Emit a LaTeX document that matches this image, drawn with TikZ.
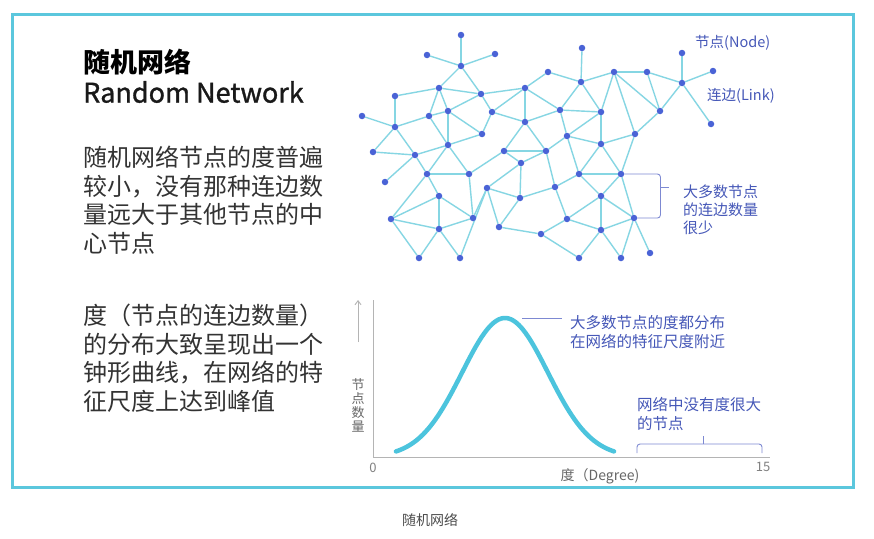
\documentclass[tikz,border=0pt]{standalone}
\usepackage{fontspec}
\setmainfont{Noto Sans CJK SC}
\newfontfamily\medfont[FakeBold=1.2]{Noto Sans CJK SC}
\usetikzlibrary{arrows.meta}
\pgfdeclarelayer{bg}
\pgfsetlayers{bg,main}
\definecolor{framecyan}{HTML}{5BC7DD}
\definecolor{nodeblue}{HTML}{4A63D6}
\definecolor{linkcyan}{HTML}{86D6E3}
\definecolor{lblblue}{HTML}{4658B8}
\definecolor{brkblue}{HTML}{7D89D2}
\definecolor{curvecyan}{HTML}{4CC4DD}
\definecolor{axisgray}{HTML}{B4B4B4}
\definecolor{txtgray}{HTML}{333333}
\begin{document}
\begin{tikzpicture}[x=1pt,y=-1pt,
  dot/.style={circle,fill=nodeblue,inner sep=0pt,minimum size=6.5pt},
  link/.style={draw=linkcyan,line width=1.4pt},
  lbl/.style={text=lblblue,inner sep=0pt,align=left},
  brk/.style={draw=brkblue,line width=0.9pt,rounded corners=3pt},
  axisline/.style={draw=axisgray,line width=1pt},
  gtxt/.style={text=gray!80!black,inner sep=0pt}]
\begin{pgfonlayer}{bg}
\fill[white] (0,0) rectangle (874,538);
\end{pgfonlayer}
\useasboundingbox (0,0) rectangle (874,538);
\draw[framecyan,line width=3pt] (12,14) rectangle (853,487);

% left texts
\node[anchor=west,inner sep=0pt,text=black,font={\fontsize{27}{32}\selectfont\bfseries}] (h1) at (83,62) {随机网络};
\node[anchor=west,inner sep=0pt,text=black!90,font={\fontsize{27}{32}\selectfont\medfont}] (h2) at (83,92) {Random Network};
\node[anchor=west,inner sep=0pt,text=txtgray,align=left,font={\fontsize{24}{28.5}\selectfont}] (p1) at (83,200) {随机网络节点的度普遍\\较小，没有那种连边数\\量远大于其他节点的中\\心节点};
\node[anchor=west,inner sep=0pt,text=txtgray,align=left,font={\fontsize{24}{28.5}\selectfont}] (p2) at (83,358) {度（节点的连边数量）\\的分布大致呈现出一个\\钟形曲线，在网络的特\\征尺度上达到峰值};

% network nodes
\foreach \n/\x/\y in {a1/461/35,a2/427/55,a3/495/54,a4/461/66,a5/439/88,a6/395/96,a7/481/94,a8/525/88,a9/362/116,a10/429/116,a11/448/111,a12/492/112,a13/395/127,a14/525/122,a15/482/134,a16/448/145,a17/373/152,a18/415/155,a19/504/151,a20/521/163,a21/427/174,a22/469/174,a23/385/182,a24/487/188,a25/520/198,a26/439/196,a27/391/219,a28/473/218,a29/439/229,a30/499/227,a31/541/234,a32/419/258,a33/460/258,
b1/582/48,b2/548/72,b3/581/82,b4/614/72,b5/647/72,b6/682/53,b7/713/71,b8/682/83,b9/560/110,b10/601/112,b11/660/111,b12/711/124,b13/567/136,b14/635/134,b15/601/144,b16/546/151,b17/579/174,b18/621/174,b19/555/187,b20/601/196,b21/567/219,b22/634/218,b24/601/230,b25/579/258,b26/621/258,b27/650/253}
  \node[dot] (\n) at (\x,\y) {};

\begin{pgfonlayer}{bg}
\foreach \u/\v in {a1/a4,a2/a4,a3/a4,a4/a5,a4/a7,a5/a6,a5/a7,a7/a8,a5/a10,a5/a11,a6/a13,a9/a13,a10/a13,a10/a11,a11/a7,a7/a12,a8/a12,a8/a14,a12/a14,a12/a15,a11/a15,a11/a16,a10/a16,a15/a16,a13/a17,a13/a18,a17/a18,a16/a18,a18/a21,a18/a23,a16/a21,a16/a22,a21/a22,a14/a19,a22/a19,a19/a20,a19/b16,a20/b16,a20/a25,a20/a24,a22/a28,a24/a28,a24/a30,a24/a25,a24/a33,a21/a26,a21/a27,a26/a27,a26/a28,a26/a29,a27/a29,a27/a32,a29/a32,a29/a33,a28/a29,a25/a30,a30/a31,a25/b19,a31/b21,a31/b25,a8/b2,a8/b9,a14/b9,a14/b16,
b1/b3,b2/b3,b3/b4,b4/b5,b5/b8,b6/b8,b7/b8,b8/b12,b8/b11,b4/b11,b5/b11,b4/b10,b4/b14,b3/b9,b3/b10,b9/b10,b9/b13,b10/b13,b10/b15,b13/b15,b11/b14,b15/b14,b13/b16,b13/b17,b14/b18,b15/b17,b15/b18,b17/b18,b17/b19,b17/b20,b18/b20,b18/b22,b19/b21,b20/b21,b20/b24,b20/b22,b21/b24,b22/b24,b24/b25,b24/b26,b22/b27,b22/b26,b16/b19}
  \draw[link] (\u) -- (\v);
\end{pgfonlayer}

% network labels
\node[lbl,anchor=west,font={\fontsize{14.5}{17}\selectfont}] (lnode) at (695,43) {节点(Node)};
\node[lbl,anchor=west,font={\fontsize{14.5}{17}\selectfont}] (llink) at (707,96) {连边(Link)};
\node[lbl,anchor=west,font={\fontsize{15}{18}\selectfont}] (lfew) at (683,210) {大多数节点\\的连边数量\\很少};
\draw[brk] (b18.east) -- ++(36,0) |- (b22.east);
\coordinate (bt) at (669,187);
\draw[brk] (660,187) -- (bt);

% chart
\coordinate (org) at (373,457);
\coordinate (ytop) at (373,300);
\coordinate (xend) at (770,457);
\draw[axisline] (ytop) -- (org) -- (xend);
\coordinate (arB) at (358,342);
\coordinate (arT) at (358,300);
\draw[axisline,line width=0.9pt,-{Straight Barb[length=4pt,width=6pt]}] (arB) -- (arT);
\node[gtxt,align=center,font={\fontsize{13}{14}\selectfont}] (ylab) at (358,405) {节\\点\\数\\量};
\node[gtxt,text=gray,font={\fontsize{13}{15}\selectfont}] (zero) at (373,468) {0};
\node[gtxt,text=gray,font={\fontsize{13}{15}\selectfont}] (fifteen) at (763,467) {15};
\node[gtxt,font={\fontsize{14}{16}\selectfont}] (xlab) at (600,476) {度（Degree)};
\draw[curvecyan,line width=4.5pt,line cap=round] plot[domain=396:614,samples=90,smooth] (\x,{457-139*exp(-((\x-505)*(\x-505))/3698)});
\node[lbl,anchor=west,font={\fontsize{15.5}{19.5}\selectfont}] (lpeak) at (570,332) {大多数节点的度都分布\\在网络的特征尺度附近};
\coordinate (pk) at (522,318);
\draw[draw=brkblue,line width=0.9pt] (pk) -- (562,318);
\node[lbl,anchor=west,font={\fontsize{15.5}{19}\selectfont}] (lnone) at (637,414) {网络中没有度很大\\的节点};
\draw[brk] (637,453) -- (637,444) -- (762,444) -- (762,453);
\coordinate (bt2) at (703,436);
\draw[brk] (703,444) -- (bt2);

% caption
\node[gtxt,text=black!70,font={\fontsize{14}{16}\selectfont}] (cap) at (430,520) {随机网络};
\end{tikzpicture}
\end{document}
